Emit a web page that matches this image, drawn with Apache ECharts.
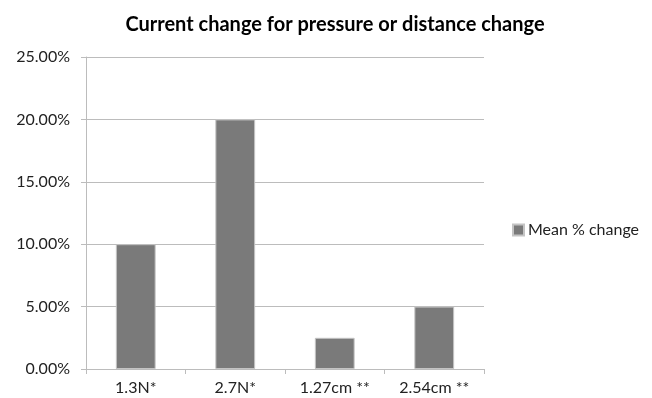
<!DOCTYPE html>
<html>
<head>
<meta charset="utf-8">
<script src="https://cdn.jsdelivr.net/npm/echarts@6/dist/echarts.min.js"></script>
<style>
  html, body { margin: 0; padding: 0; background: #fff; }
  #chart { width: 652px; height: 398px; }
</style>
</head>
<body>
<div id="chart"></div>
<script>
// Conditions tested and the mean percent change in current for each
const categories = ['1.3N*', '2.7N*', '1.27cm **', '2.54cm **'];
const meanChange = [0.10, 0.20, 0.025, 0.05];
const seriesName = 'Mean % change';
const chartTitle = 'Current change for pressure or distance change';

const FONT = 'Lato, "Open Sans", sans-serif';
const chart = echarts.init(document.getElementById('chart'), null, { renderer: 'canvas' });

chart.setOption({
  animation: false,
  backgroundColor: '#ffffff',
  title: {
    text: chartTitle,
    left: 330,
    textAlign: 'center',
    top: 10,
    textStyle: { fontFamily: FONT, fontWeight: 'bold', fontSize: 20, color: '#000' }
  },
  legend: {
    data: [seriesName],
    orient: 'vertical',
    left: 507,
    top: 217,
    itemWidth: 11,
    itemHeight: 11,
    itemGap: 4,
    icon: 'rect',
    textStyle: { fontFamily: FONT, fontSize: 16, color: '#222', padding: [0, 0, 0, -1] }
  },
  grid: { left: 86, top: 57, right: 168, bottom: 29, containLabel: false },
  xAxis: {
    type: 'category',
    data: categories,
    boundaryGap: true,
    axisLine: { lineStyle: { color: '#bcbcbc', width: 1 } },
    axisTick: { show: true, alignWithLabel: false, length: 5, lineStyle: { color: '#bcbcbc' } },
    axisLabel: { fontFamily: FONT, fontSize: 16, color: '#222', margin: 11 }
  },
  yAxis: {
    type: 'value',
    min: 0,
    max: 0.25,
    interval: 0.05,
    axisLine: { show: true, lineStyle: { color: '#bcbcbc', width: 1 } },
    axisTick: { show: true, length: 5, lineStyle: { color: '#bcbcbc' } },
    splitLine: { show: true, lineStyle: { color: '#bcbcbc', width: 1 } },
    axisLabel: {
      fontFamily: FONT, fontSize: 16, color: '#222', margin: 16,
      formatter: v => (v * 100).toFixed(2) + '%'
    }
  },
  series: [{
    name: seriesName,
    type: 'bar',
    data: meanChange,
    barWidth: '40%',
    itemStyle: { color: '#7a7a7a', borderColor: '#c4c4c4', borderWidth: 1 }
  }]
});
</script>
</body>
</html>
